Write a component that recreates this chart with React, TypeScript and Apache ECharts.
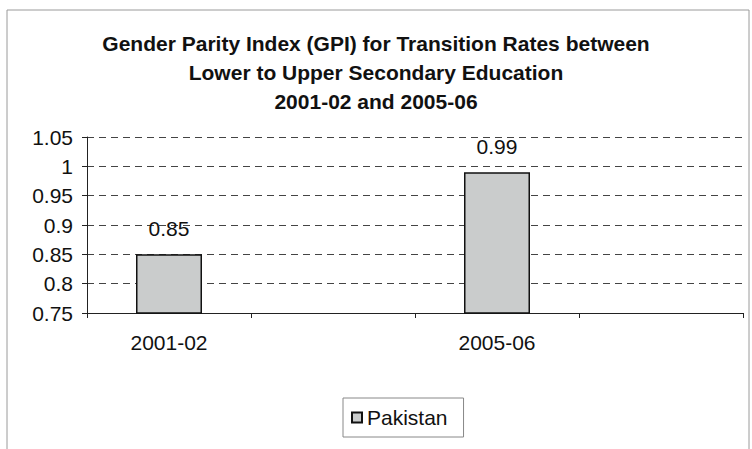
import React, { useEffect, useRef } from "react";
import * as echarts from "echarts";

const categories = ["2001-02", "", "2005-06", ""];
const pakistanValues = [0.85, null, 0.99, null];
const seriesName = "Pakistan";
const titleLines = [
  "Gender Parity Index (GPI) for Transition Rates between",
  "Lower to Upper Secondary Education",
  "2001-02 and 2005-06",
];
const yMin = 0.75;
const yMax = 1.05;
const yStep = 0.05;

const FONT = "'Liberation Sans', Arial, sans-serif";

export default function App() {
  const ref = useRef<HTMLDivElement>(null);
  useEffect(() => {
    document.body.style.margin = "0";
    const chart = echarts.init(ref.current!, null, { renderer: "svg" });
    chart.setOption({
      animation: false,
      backgroundColor: "#ffffff",
      textStyle: { fontFamily: FONT },
      graphic: [
        {
          type: "rect",
          shape: { x: 7, y: 10, width: 742, height: 470 },
          style: { fill: "none", stroke: "#9a9a9a", lineWidth: 1 },
          silent: true,
        },
      ],
      title: {
        text: titleLines.join("\n"),
        left: "center",
        top: 29,
        padding: 0,
        textStyle: {
          fontFamily: FONT,
          fontSize: 21,
          fontWeight: "bold",
          color: "#111",
          lineHeight: 29,
        },
      },
      legend: {
        data: [seriesName],
        left: 343,
        top: 398,
        padding: [9, 16, 9, 8],
        borderColor: "#888",
        borderWidth: 1,
        icon: "rect",
        itemWidth: 10,
        itemHeight: 10,
        itemGap: 8,
        textStyle: { fontFamily: FONT, fontSize: 21, color: "#111" },
      },
      grid: { left: 87, right: 9, top: 137, bottom: 136, containLabel: false },
      xAxis: {
        type: "category",
        data: categories,
        axisLine: { lineStyle: { color: "#222", width: 1 } },
        axisTick: { show: true, length: 5, lineStyle: { color: "#222" } },
        axisLabel: { fontFamily: FONT, fontSize: 21, color: "#111", margin: 19 },
      },
      yAxis: {
        type: "value",
        min: yMin,
        max: yMax,
        interval: yStep,
        axisLine: { show: true, lineStyle: { color: "#222", width: 1 } },
        axisTick: { show: true, length: 5, lineStyle: { color: "#222" } },
        axisLabel: {
          fontFamily: FONT,
          fontSize: 21,
          color: "#111",
          margin: 14,
          formatter: (v: number) => String(parseFloat(v.toFixed(2))),
        },
        splitLine: {
          show: true,
          lineStyle: { color: "#444", type: [7, 5], width: 1 },
        },
      },
      series: [
        {
          name: seriesName,
          type: "bar",
          data: pakistanValues,
          barWidth: 66,
          itemStyle: { color: "#cacccc", borderColor: "#111", borderWidth: 1.5 },
          label: {
            show: true,
            position: "top",
            distance: 15,
            fontFamily: FONT,
            fontSize: 21,
            color: "#111",
            formatter: (p: any) => Number(p.value).toFixed(2),
          },
        },
      ],
    });
    return () => chart.dispose();
  }, []);
  return <div ref={ref} style={{ width: 752, height: 449 }} />;
}
